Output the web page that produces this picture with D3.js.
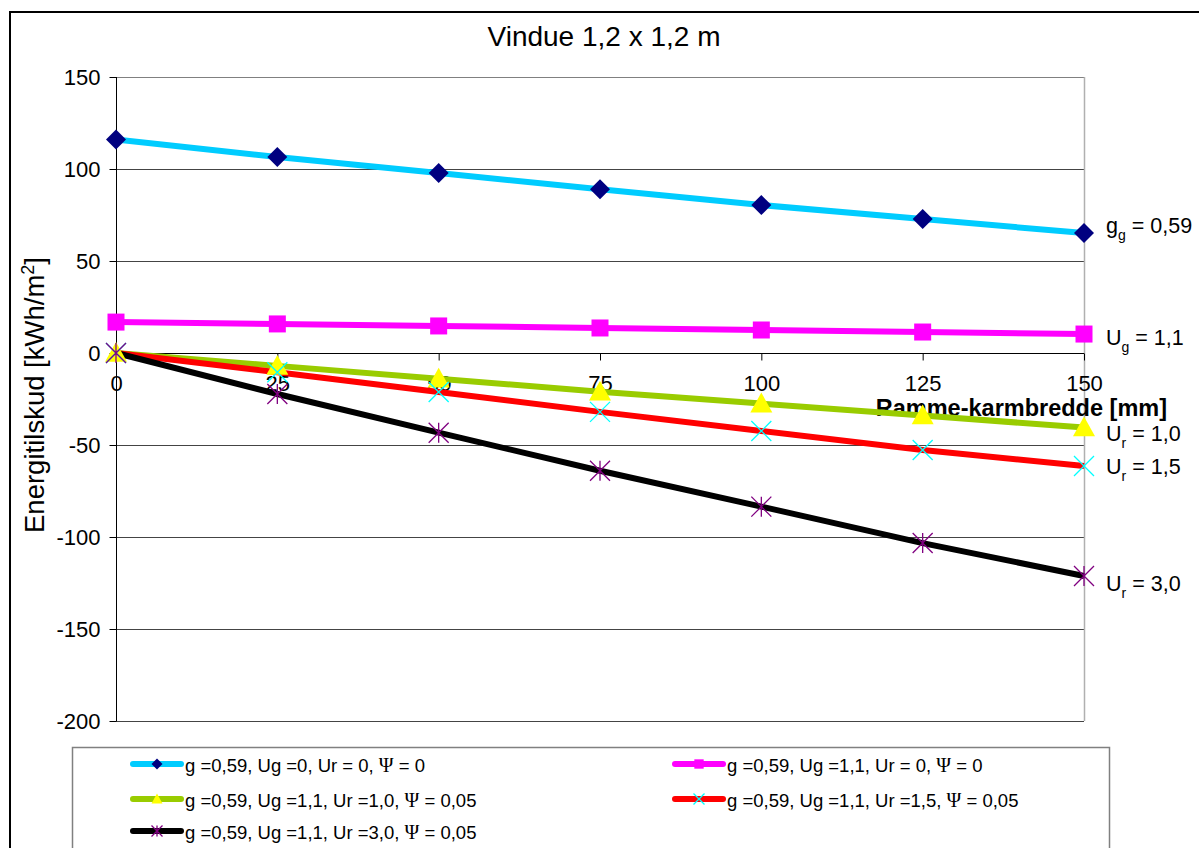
<!DOCTYPE html>
<html>
<head>
<meta charset="utf-8">
<script src="https://cdn.jsdelivr.net/npm/d3@7"></script>
<style>
  html, body { margin: 0; padding: 0; background: #fff; }
  svg { display: block; font-family: "Liberation Sans", Arial, sans-serif; }
</style>
</head>
<body>
<svg id="chart" width="1199" height="848"></svg>
<script>
// ---- data ----
const xValues = [0, 25, 50, 75, 100, 125, 150];
const yTicks = [150, 100, 50, 0, -50, -100, -150, -200];
const s1 = [116, 106.5, 97.8, 89, 80.4, 72.8, 65.2];      // g=0,59 Ug=0 Ur=0 Psi=0
const s2 = [16.8, 15.8, 14.7, 13.6, 12.5, 11.4, 10.3];    // g=0,59 Ug=1,1 Ur=0 Psi=0
const s3 = [0, -7, -14, -21, -27.5, -34, -40.5];          // Ur=1,0 Psi=0,05
const s4 = [0, -10.5, -21.2, -32, -42.4, -52.7, -61.4];   // Ur=1,5 Psi=0,05
const s5 = [0, -22.3, -43.3, -64, -83.5, -103.3, -121.2]; // Ur=3,0 Psi=0,05
const legendLabels = [
  ["g =0,59, Ug =0, Ur = 0, ", " = 0"],
  ["g =0,59, Ug =1,1, Ur = 0, ", " = 0"],
  ["g =0,59, Ug =1,1, Ur =1,0, ", " = 0,05"],
  ["g =0,59, Ug =1,1, Ur =1,5, ", " = 0,05"],
  ["g =0,59, Ug =1,1, Ur =3,0, ", " = 0,05"]
];
const endLabels = [["g", "g", " = 0,59"], ["U", "g", " = 1,1"], ["U", "r", " = 1,0"], ["U", "r", " = 1,5"], ["U", "r", " = 3,0"]];
const titleText = "Vindue 1,2 x 1,2 m";
const xTitle = "Ramme-karmbredde [mm]";

// ---- styles ----
const seriesData = [s1, s2, s3, s4, s5];
const lineColors = ["#00CCFF", "#FF00FF", "#99CC00", "#FF0000", "#000000"];
const markerTypes = ["diamond", "square", "triangle", "x", "star"];
const markerColors = ["#000080", "#FF00FF", "#FFFF00", "#00FFFF", "#800080"];
const endLabelY = [233, 345, 441, 474, 591];

const svg = d3.select("#chart");
const x = d3.scaleLinear().domain([0, 150]).range([116, 1084]);
const y = d3.scaleLinear().domain([-200, 150]).range([721, 77]);

// outer frame
svg.append("path").attr("d", "M10,1000 V12 H1300").attr("fill", "none").attr("stroke", "#000").attr("stroke-width", 2);

// gridlines
svg.append("g").selectAll("line").data(yTicks).join("line")
  .attr("x1", x(0)).attr("x2", x(150))
  .attr("y1", d => Math.round(y(d)) + 0.5).attr("y2", d => Math.round(y(d)) + 0.5)
  .attr("stroke", d => d === 150 ? "#808080" : "#444").attr("stroke-width", 1);
// right plot border
svg.append("line").attr("x1", x(150) + 0.5).attr("x2", x(150) + 0.5).attr("y1", y(150)).attr("y2", y(-200))
  .attr("stroke", "#b0b0b0").attr("stroke-width", 1.5);

// y axis
const yAxis = d3.axisLeft(y).tickValues(yTicks).tickSize(7).tickPadding(9).tickFormat(d3.format("d"));
const gy = svg.append("g").attr("transform", `translate(${x(0) + 0.5},0)`).call(yAxis);
gy.select(".domain").remove();
gy.append("line").attr("x1", 0).attr("x2", 0).attr("y1", y(150)).attr("y2", y(-200)).attr("stroke", "#000");
gy.selectAll(".tick line").attr("stroke", "#000");
gy.selectAll(".tick text").attr("font-size", 22).attr("fill", "#000").attr("font-family", "Liberation Sans, Arial, sans-serif").text(d => d < 0 ? "-" + Math.abs(d) : d);

// x axis at y=0
const xAxis = d3.axisBottom(x).tickValues(xValues).tickSize(7).tickPadding(15);
const gx = svg.append("g").attr("transform", `translate(0,${Math.round(y(0)) + 0.5})`).call(xAxis);
gx.select(".domain").remove();
gx.append("line").attr("x1", x(0)).attr("x2", x(150)).attr("stroke", "#000");
gx.selectAll(".tick line").attr("stroke", "#000");
gx.selectAll(".tick text").attr("font-size", 22).attr("fill", "#000").attr("font-family", "Liberation Sans, Arial, sans-serif");

// titles
svg.append("text").attr("x", 604).attr("y", 46).attr("text-anchor", "middle").attr("font-size", 28).text(titleText);
svg.append("text").attr("x", 1167).attr("y", 416).attr("text-anchor", "end").attr("font-size", 23.5).attr("font-weight", "bold").text(xTitle);
const yt = svg.append("text").attr("transform", "translate(44,395) rotate(-90)").attr("text-anchor", "middle").attr("font-size", 27.5);
yt.append("tspan").text("Energitilskud [kWh/m");
yt.append("tspan").attr("baseline-shift", "super").attr("font-size", 18).text("2");
yt.append("tspan").text("]");

// marker drawing
function drawMarker(g, type, color, cx, cy, s) {
  const h = s / 2;
  if (type === "diamond") {
    g.append("path").attr("d", `M${cx},${cy - h} L${cx + h},${cy} L${cx},${cy + h} L${cx - h},${cy} Z`).attr("fill", color);
  } else if (type === "square") {
    const q = h * 0.85;
    g.append("rect").attr("x", cx - q).attr("y", cy - q).attr("width", 2 * q).attr("height", 2 * q).attr("fill", color);
  } else if (type === "triangle") {
    g.append("path").attr("d", `M${cx},${cy - h} L${cx + h},${cy + h * 0.8} L${cx - h},${cy + h * 0.8} Z`).attr("fill", color);
  } else if (type === "x") {
    g.append("path").attr("d", `M${cx - h},${cy - h} L${cx + h},${cy + h} M${cx - h},${cy + h} L${cx + h},${cy - h}`).attr("stroke", color).attr("stroke-width", 1.3);
  } else if (type === "star") {
    g.append("path").attr("d", `M${cx - h},${cy - h} L${cx + h},${cy + h} M${cx - h},${cy + h} L${cx + h},${cy - h} M${cx},${cy - h} L${cx},${cy + h}`).attr("stroke", color).attr("stroke-width", 1.3);
  }
}

// lines
const line = d3.line().x((d, i) => x(xValues[i])).y(d => y(d));
const linesG = svg.append("g");
seriesData.forEach((s, k) => {
  linesG.append("path").datum(s).attr("d", line).attr("fill", "none")
    .attr("stroke", lineColors[k]).attr("stroke-width", 6).attr("stroke-linejoin", "round");
});
// markers
const markG = svg.append("g");
seriesData.forEach((s, k) => {
  s.forEach((v, i) => drawMarker(markG, markerTypes[k], markerColors[k], x(xValues[i]), y(v), markerTypes[k] === "triangle" ? 22 : 20));
});

// end labels
endLabels.forEach((lab, k) => {
  const t = svg.append("text").attr("x", 1106).attr("y", endLabelY[k]).attr("font-size", 21.5);
  t.append("tspan").text(lab[0]);
  t.append("tspan").attr("dy", 7).attr("font-size", 14).text(lab[1]);
  t.append("tspan").attr("dy", -7).text(lab[2]);
});

// legend
svg.append("rect").attr("x", 72.5).attr("y", 747.5).attr("width", 1037).attr("height", 200)
  .attr("fill", "#fff").attr("stroke", "#808080").attr("stroke-width", 1.5);
const legendPos = [[131, 764], [673, 764], [131, 799], [673, 799], [131, 831]];
legendLabels.forEach((lab, k) => {
  const [lx, ly] = legendPos[k];
  const g = svg.append("g");
  g.append("line").attr("x1", lx + 2).attr("x2", lx + 50).attr("y1", ly).attr("y2", ly)
    .attr("stroke", lineColors[k]).attr("stroke-width", 6).attr("stroke-linecap", "round");
  drawMarker(g, markerTypes[k], markerColors[k], lx + 26, ly, 11);
  const t = g.append("text").attr("x", lx + 54).attr("y", ly + 8).attr("font-size", 18.5);
  t.append("tspan").text(lab[0]);
  t.append("tspan").attr("font-family", "Liberation Serif, Times New Roman, serif").attr("font-size", 20).text("\u03A8");
  t.append("tspan").text(lab[1]);
});
</script>
</body>
</html>
